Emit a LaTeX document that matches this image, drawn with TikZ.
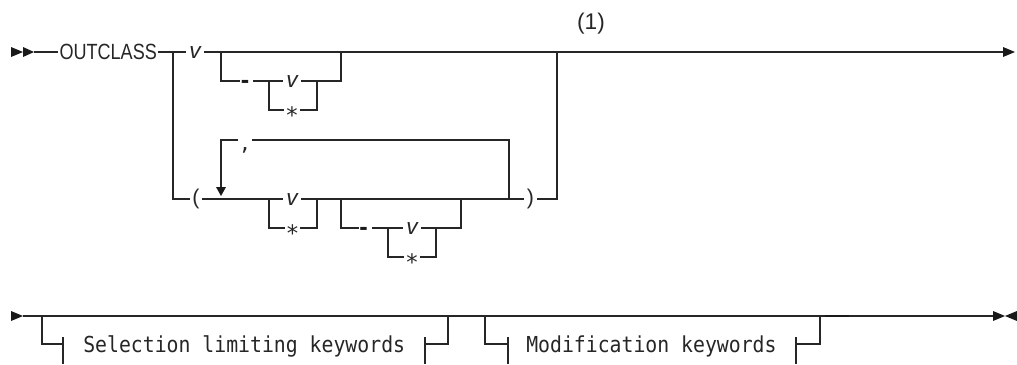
\documentclass[tikz,border=0pt]{standalone}
\usepackage{fontspec}
\newfontfamily\rrfont[FakeStretch=0.82]{Liberation Sans}
\newfontfamily\rrmono[FakeStretch=0.9]{DejaVu Sans Mono}
\newfontfamily\notefont{Liberation Sans}
\newfontfamily\symfont{DejaVu Sans}
\begin{document}
\begin{tikzpicture}[x=0.75pt,y=-0.75pt,
  rail/.style={draw=black!85, line width=1pt},
  tip/.style={fill=black!90, draw=none},
  lab/.style={font=\notefont\fontsize{16}{19}\selectfont, inner xsep=2pt, inner ysep=0pt, anchor=base, yshift=-4.2pt, text=black!85},
  varlab/.style={font=\notefont\itshape\fontsize{17}{20}\selectfont, inner xsep=2.2pt, inner ysep=0pt, anchor=base, yshift=-5.2pt, text=black!85},
  dashlab/.style={font=\notefont\bfseries\fontsize{19}{23}\selectfont, inner xsep=0.3pt, inner ysep=0pt, anchor=base, yshift=-5.5pt, text=black!90},
  starlab/.style={font=\symfont\fontsize{17}{20}\selectfont, inner xsep=1.5pt, inner ysep=0pt, anchor=base, yshift=-9.9pt, text=black!85},
  commalab/.style={font=\symfont\fontsize{18}{22}\selectfont, inner xsep=2pt, inner ysep=0pt, anchor=base, yshift=-8pt, text=black!85},
  kwlab/.style={font=\rrfont\fontsize{16.5}{19}\selectfont, inner xsep=1pt, inner ysep=0pt, anchor=base west, text=black!85},
  fraglab/.style={font=\rrmono\fontsize{16.5}{20}\selectfont, inner sep=0pt, anchor=base west, text=black!85},
  notelab/.style={font=\notefont\fontsize{17}{20}\selectfont, inner sep=0pt, text=black!85}
]
\useasboundingbox (0,0) rectangle (1017,364);

% ---------- coordinates ----------
\coordinate (s1) at (34,52);
\coordinate (A) at (173,52);
\coordinate (B) at (221,52);
\coordinate (C) at (341,52);
\coordinate (D) at (557,52);
\coordinate (e1) at (1003,52);
\coordinate (B1) at (221,81);
\coordinate (E) at (269,81);
\coordinate (F) at (317,81);
\coordinate (C1) at (341,81);
\coordinate (E1) at (269,110);
\coordinate (F1) at (317,110);
\coordinate (A3) at (173,199);
\coordinate (Lp) at (221,199);
\coordinate (G) at (269,199);
\coordinate (H) at (317,199);
\coordinate (I) at (341,199);
\coordinate (J) at (461,199);
\coordinate (K) at (509,199);
\coordinate (D3) at (557,199);
\coordinate (G1) at (269,228);
\coordinate (H1) at (317,228);
\coordinate (I1) at (341,228);
\coordinate (L) at (388,228);
\coordinate (M) at (436,228);
\coordinate (J1) at (461,228);
\coordinate (L1) at (388,257);
\coordinate (M1) at (436,257);
\coordinate (K0) at (509,140);
\coordinate (Lp0) at (221,140);
\coordinate (Lpa) at (221,187);

\coordinate (s2) at (23,316);
\coordinate (P) at (42,316);
\coordinate (P1) at (42,344);
\coordinate (t1) at (63,344);
\coordinate (t2) at (425,344);
\coordinate (Q1) at (448,344);
\coordinate (Q) at (448,316);
\coordinate (R) at (485,316);
\coordinate (R1) at (485,344);
\coordinate (t3) at (508,344);
\coordinate (t4) at (796,344);
\coordinate (T1) at (820,344);
\coordinate (T) at (820,316);
\coordinate (e2) at (993,316);

% ---------- labels ----------
\node[kwlab] (out) at (58,59) {OUTCLASS};
\node[varlab] (v1) at (195,52) {v};
\node[dashlab] (d1) at (245,81) {-};
\node[varlab] (v2) at (292,81) {v};
\node[starlab] (st1) at (292,110) {*};
\node[lab] (lp) at (196,199) {(};
\node[varlab] (v3) at (292,199) {v};
\node[starlab] (st2) at (292.5,228) {*};
\node[dashlab] (d2) at (363.5,228) {-};
\node[varlab] (v4) at (412,228) {v};
\node[starlab] (st3) at (412,257) {*};
\node[lab] (rp) at (530.5,199) {)};
\node[commalab] (cm) at (245,140) {,};
\node[notelab] (note) at (591,24) {(1)};
\node[fraglab] (f1) at (83,352) {Selection limiting keywords};
\node[fraglab] (f2) at (526,352) {Modification keywords};

% ---------- arrow tips ----------
\fill[tip] (11,47) -- (23,52) -- (11,57) -- cycle;
\fill[tip] (23,47) -- (34,52) -- (23,57) -- cycle;
\fill[tip] (1003,47) -- (1015,52) -- (1003,57) -- cycle;
\fill[tip] (216,187) -- (226,187) -- (221,196) -- cycle;
\fill[tip] (11,311) -- (23,316) -- (11,321) -- cycle;
\fill[tip] (993,311) -- (1005,316) -- (993,321) -- cycle;
\fill[tip] (1017,311) -- (1005,316) -- (1017,321) -- cycle;

% ---------- row 1 ----------
\draw[rail] (s1) -- (s1 -| out.west);
\draw[rail] (A -| out.east) -- (A) -- (A -| v1.west);
\draw[rail] (B -| v1.east) -- (B) -- (C) -- (D) -- (e1);
\draw[rail] (B) -- (B1) -- (B1 -| d1.west);
\draw[rail] ([xshift=2.5pt]E -| d1.east) -- (E) -- (E -| v2.west);
\draw[rail] (F -| v2.east) -- (F) -- (C1) -- (C);
\draw[rail] (E) -- (E1) -- (E1 -| st1.west);
\draw[rail] (F1 -| st1.east) -- (F1) -- (F);

% ---------- row 3 ----------
\draw[rail] (A) -- (A3) -- (A3 -| lp.west);
\draw[rail] (Lp -| lp.east) -- (Lp) -- (G) -- (G -| v3.west);
\draw[rail] (H -| v3.east) -- (H) -- (I) -- (J) -- (K) -- (K -| rp.west);
\draw[rail] (D3 -| rp.east) -- (D3) -- (D);
\draw[rail] (G) -- (G1) -- (G1 -| st2.west);
\draw[rail] (H1 -| st2.east) -- (H1) -- (H);
\draw[rail] (I) -- (I1) -- (I1 -| d2.west);
\draw[rail] ([xshift=2.5pt]L -| d2.east) -- (L) -- (L -| v4.west);
\draw[rail] (M -| v4.east) -- (M) -- (J1) -- (J);
\draw[rail] (L) -- (L1) -- (L1 -| st3.west);
\draw[rail] (M1 -| st3.east) -- (M1) -- (M);
% repeat loop
\draw[rail] (K) -- (K0) -- (K0 -| cm.east);
\draw[rail] (Lp0 -| cm.west) -- (Lp0) -- (Lpa);

% ---------- row 2 ----------
\draw[rail] (s2) -- (P) -- (Q) -- (R) -- (T) -- (e2);
\draw[black!90, line width=1.7pt] (825,316) -- (849,316);
\draw[rail] (P) -- (P1) -- (t1);
\draw[rail] (63,337) -- (63,364);
\draw[rail] (425,337) -- (425,364);
\draw[rail] (t2) -- (Q1) -- (Q);
\draw[rail] (R) -- (R1) -- (t3);
\draw[rail] (508,337) -- (508,364);
\draw[rail] (796,337) -- (796,364);
\draw[rail] (t4) -- (T1) -- (T);
\end{tikzpicture}
\end{document}
